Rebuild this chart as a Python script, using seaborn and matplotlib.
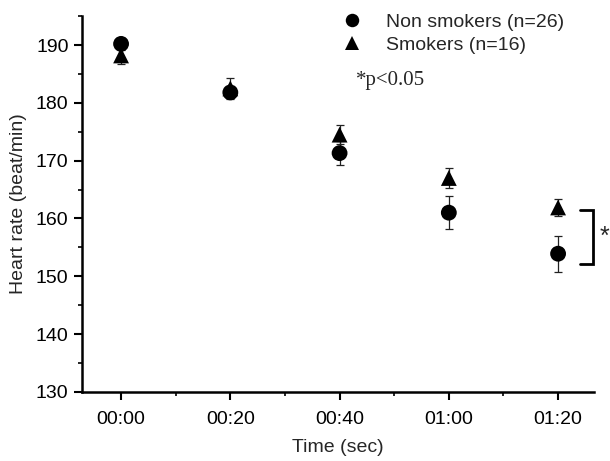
import seaborn as sns
import matplotlib.pyplot as plt
import pandas as pd
import numpy as np
from matplotlib.ticker import MultipleLocator

# Data
times = ['00:00', '00:20', '00:40', '01:00', '01:20']
non_smokers = [190.2, 181.8, 171.3, 161.0, 153.9]
non_smokers_err = [1.0, 1.0, 2.1, 2.9, 3.1]
smokers = [188.2, 182.5, 174.5, 167.0, 161.9]
smokers_err = [1.5, 1.8, 1.6, 1.7, 1.5]
groups = ['Non smokers (n=26)', 'Smokers (n=16)']

pos = np.arange(len(times))
df = pd.DataFrame({
    'Time': np.concatenate([pos, pos]),
    'HR': non_smokers + smokers,
    'err': non_smokers_err + smokers_err,
    'Group': [groups[0]] * len(times) + [groups[1]] * len(times),
})

sns.set_style('ticks')
plt.rcParams['font.family'] = ['Liberation Sans', 'DejaVu Sans']

fig = plt.figure(figsize=(6.1, 4.61), dpi=100)
ax = fig.add_axes([0.134, 0.150, 0.840, 0.815])

# error bars first, markers on top
for g in groups:
    sub = df[df.Group == g]
    ax.errorbar(sub.Time, sub.HR, yerr=sub.err, fmt='none', ecolor='#222222',
                elinewidth=0.9, capsize=3, capthick=0.9, zorder=2)

sns.scatterplot(data=df, x='Time', y='HR', style='Group', hue='Group',
                palette=['black', 'black'], markers=['o', '^'],
                s=130, edgecolor='black', linewidth=0, ax=ax, zorder=3)

ax.set_xlim(-0.36, 4.33)
ax.set_ylim(130, 195)
ax.set_xticks(pos)
ax.set_xticklabels(times)
ax.xaxis.set_minor_locator(MultipleLocator(0.5))
ax.set_yticks([130, 140, 150, 160, 170, 180, 190])
ax.yaxis.set_minor_locator(MultipleLocator(5))
ax.tick_params(axis='both', which='major', direction='out', length=6,
               width=1.5, labelsize=14, color='black', labelcolor='black')
ax.tick_params(axis='x', which='major', pad=8)
ax.tick_params(axis='both', which='minor', direction='out', length=3,
               width=1.2, color='black')
ax.set_xlabel('Time (sec)', fontsize=14, labelpad=8)
ax.set_ylabel('Heart rate (beat/min)', fontsize=14, labelpad=6)

sns.despine(ax=ax)
for side in ['left', 'bottom']:
    ax.spines[side].set_linewidth(1.8)
    ax.spines[side].set_color('black')

# legend
handles, labels = ax.get_legend_handles_labels()
leg = ax.legend(handles, labels, loc='upper left', bbox_to_anchor=(0.455, 1.055),
                frameon=False, fontsize=14, handletextpad=0.75,
                labelspacing=0.3, markerscale=0.85)

ax.text(0.535, 0.83, '*p<0.05', transform=ax.transAxes,
        family='Liberation Serif', fontsize=15, va='center', ha='left')

# significance bracket at 01:20
x0, x1 = 4.2, 4.32
yb, yt = 152.2, 161.4
ax.plot([x0, x1, x1, x0], [yt, yt, yb, yb], color='black', lw=2,
        clip_on=False, solid_joinstyle='miter')
ax.text(x1 + 0.06, (yb + yt) / 2, '*', fontsize=18, va='center', ha='left',
        clip_on=False)

plt.savefig('out.png', dpi=100)
